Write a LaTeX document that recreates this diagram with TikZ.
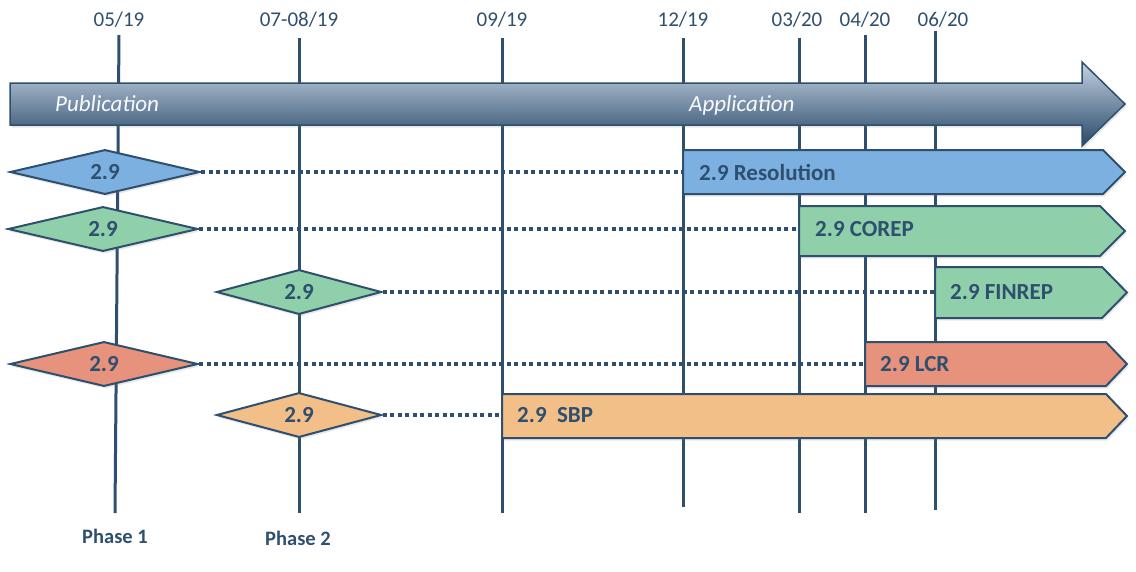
\documentclass[tikz,border=0pt]{standalone}
\usepackage{fontspec}
\setmainfont{Carlito}
\usetikzlibrary{shapes.geometric,shadows}
\definecolor{ln}{RGB}{46,80,110}
\definecolor{tx}{RGB}{47,79,111}
\definecolor{cblue}{RGB}{124,176,224}
\definecolor{cgreen}{RGB}{143,208,170}
\definecolor{cred}{RGB}{230,146,125}
\definecolor{corange}{RGB}{242,191,136}
\definecolor{atop}{RGB}{196,210,225}
\definecolor{abot}{RGB}{40,72,105}
\begin{document}
\begin{tikzpicture}[x=1pt,y=-1pt,
  vline/.style={draw=ln,line width=3pt},
  datelbl/.style={text=tx,font=\fontsize{21}{24}\selectfont,inner sep=0pt},
  phaselbl/.style={text=tx,font=\bfseries\fontsize{20.5}{23}\selectfont,inner sep=0pt},
  arrowlbl/.style={text=white!95!cblue,font=\itshape\fontsize{23}{26}\selectfont,inner sep=0pt,anchor=base west},
  softshadow/.style={drop shadow={opacity=0.18,shadow xshift=1.5pt,shadow yshift=-2.5pt}},
  dia/.style={diamond,draw=ln,line width=2pt,inner sep=0pt,minimum height=44pt,
    text=tx,font=\bfseries\fontsize{23}{25}\selectfont,softshadow},
  stagebox/.style={draw=ln,line width=2pt,line join=miter,softshadow},
  boxlbl/.style={text=tx,font=\bfseries\fontsize{23}{25}\selectfont,inner sep=0pt,anchor=west},
  dots/.style={draw=ln,line width=3.5pt,dash pattern=on 4pt off 3.5pt}
]
\useasboundingbox (0,0) rectangle (1136,571);

% date labels
\node[datelbl] (l1) at (119,20) {05/19};
\node[datelbl] (l2) at (299,20) {07-08/19};
\node[datelbl] (l3) at (502,20) {09/19};
\node[datelbl] (l4) at (683,20) {12/19};
\node[datelbl] (l5) at (797,20) {03/20};
\node[datelbl] (l6) at (865,20) {04/20};
\node[datelbl] (l7) at (943,20) {06/20};

% vertical lines
\coordinate (t1) at (119,35);  \coordinate (b1) at (115,513);
\coordinate (t2) at (299,38);  \coordinate (b2) at (299,513);
\coordinate (t3) at (502,38);  \coordinate (b3) at (502,513);
\coordinate (t4) at (683,38);  \coordinate (b4) at (683,507);
\coordinate (t5) at (799,38);  \coordinate (b5) at (799,513);
\coordinate (t6) at (865,35);  \coordinate (b6) at (865,513);
\coordinate (t7) at (935,31);  \coordinate (b7) at (935,510);
\foreach \i in {1,...,7} { \draw[vline] (t\i) -- (b\i); }

% phase labels
\node[phaselbl] (p1) at (115,536) {Phase 1};
\node[phaselbl] (p2) at (298,538) {Phase 2};

% big arrow
\shadedraw[top color=atop,bottom color=abot,draw=ln,line width=1.5pt,softshadow]
  (10,83) -- (1082,83) -- (1082,62) -- (1125,104) -- (1082,146) -- (1082,125) -- (10,125) -- cycle;
\node[arrowlbl] (pub) at (55,111) {Publication};
\node[arrowlbl] (app) at (689,111) {Application};

% box entry points
\coordinate (e1) at (683,172);
\coordinate (e2) at (799,231);
\coordinate (e3) at (935,292);
\coordinate (e4) at (865,364);
\coordinate (e5) at (502,415);

% diamonds
\node[dia,fill=cblue,minimum width=190pt] (d1) at (105,172) {2.9};
\node[dia,fill=cgreen,minimum width=190pt] (d2) at (103,229) {2.9};
\node[dia,fill=cgreen,minimum width=165pt] (d3) at (299,292) {2.9};
\node[dia,fill=cred,minimum width=188pt] (d4) at (104,364) {2.9};
\node[dia,fill=corange,minimum width=165pt] (d5) at (299,415) {2.9};

% dotted connectors
\draw[dots] (d1.east) -- (e1);
\draw[dots] (d2.east) -- (d2.east -| e2);
\draw[dots] (d3.east) -- (e3);
\draw[dots] (d4.east) -- (e4);
\draw[dots] (d5.east) -- (e5);

% stage boxes
\path[stagebox,fill=cblue]   (683,150) -- (1103,150) -- (1125,172) -- (1103,194) -- (683,194) -- cycle;
\path[stagebox,fill=cgreen]  (799,206) -- (1100,206) -- (1125,231) -- (1100,256) -- (799,256) -- cycle;
\path[stagebox,fill=cgreen]  (935,267) -- (1102,267) -- (1127,292.5) -- (1102,318) -- (935,318) -- cycle;
\path[stagebox,fill=cred]    (865,342) -- (1106,342) -- (1127,364) -- (1106,386) -- (865,386) -- cycle;
\path[stagebox,fill=corange] (502,394) -- (1106,394) -- (1127,416) -- (1106,438) -- (502,438) -- cycle;

\node[boxlbl] (n1) at (699,172) {2.9 Resolution};
\node[boxlbl] (n2) at (815,229) {2.9 COREP};
\node[boxlbl] (n3) at (950,292) {2.9 FINREP};
\node[boxlbl] (n4) at (880,364) {2.9 LCR};
\node[boxlbl] (n5) at (517,415) {2.9\ \ SBP};
\end{tikzpicture}
\end{document}
